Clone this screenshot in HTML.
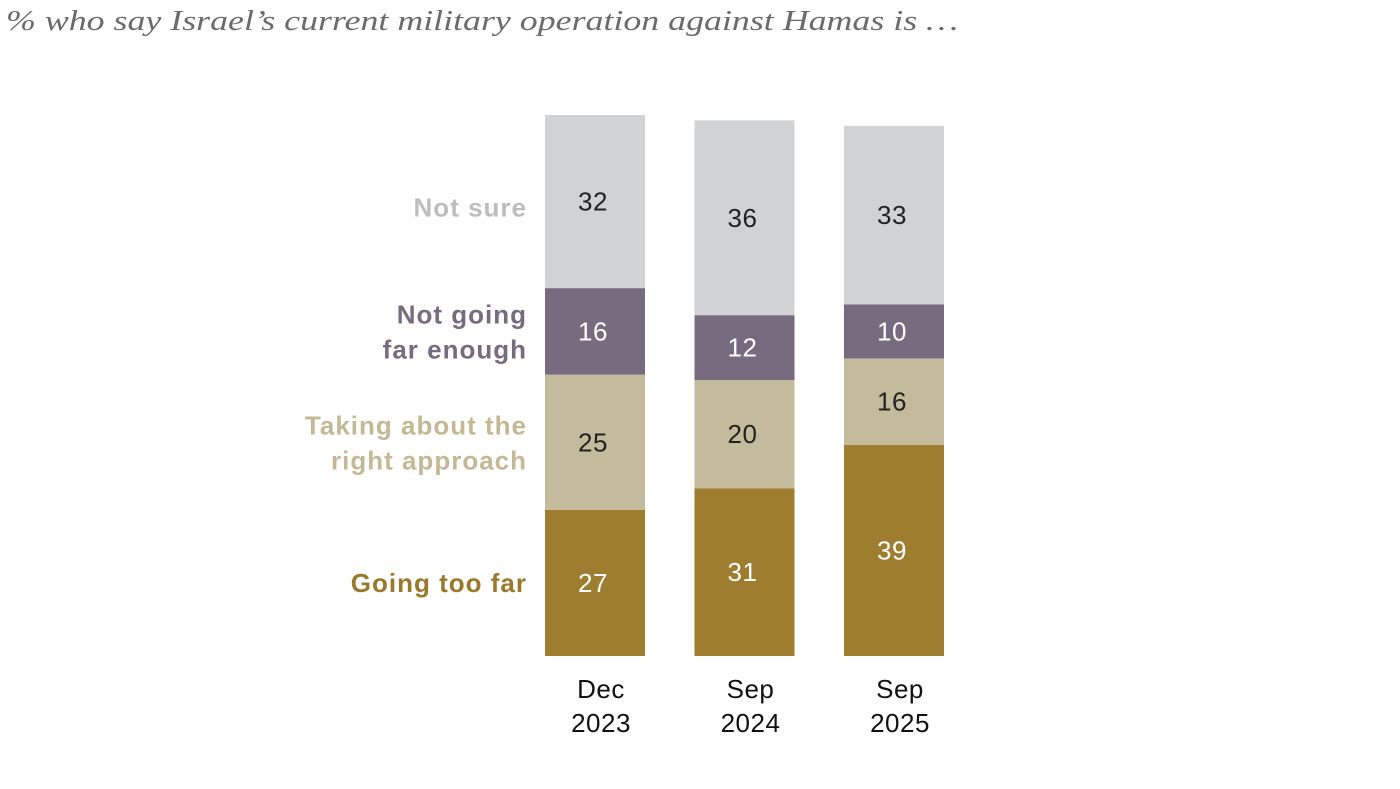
<!DOCTYPE html>
<html><head><meta charset="utf-8"><style>
html,body{margin:0;padding:0;background:#fff;}
body{width:1400px;height:789px;overflow:hidden;position:relative;font-family:"Liberation Sans",sans-serif;}
</style></head><body>
<svg id="chart" width="1400" height="789" style="position:absolute;left:0;top:0">
<text x="6" y="30" font-family="Liberation Serif, serif" font-style="italic" font-size="28" fill="#6b6b6b" textLength="952" lengthAdjust="spacingAndGlyphs">% who say Israel’s current military operation against Hamas is …</text>
</svg>
<script>
const categories = ["Dec\n2023","Sep\n2024","Sep\n2025"];
const seriesNames = ["Going too far","Taking about the\nright approach","Not going\nfar enough","Not sure"];
const goingTooFar = [27,31,39];
const rightApproach = [25,20,16];
const notFarEnough = [16,12,10];
const notSure = [32,36,33];

const series=[goingTooFar,rightApproach,notFarEnough,notSure];
const fills=["#9e7e2e","#c4bb9c","#776b7f","#d1d2d4"];
const textCols=["#fff","#222","#fff","#222"];
const labelCols=["#9a7a2a","#c4b994","#776b7f","#bdbdbd"];
const keys=["going-too-far","right-approach","not-far-enough","not-sure"];
const svg=document.getElementById('chart');
const NS="http://www.w3.org/2000/svg";
const baseY=656, unit=5.41, barW=100;
const xPos=i=>545+i*149.5;
const yScale=v=>baseY-v*unit;
function mk(t,a){const e=document.createElementNS(NS,t);for(const k in a)e.setAttribute(k,a[k]);svg.appendChild(e);return e;}
categories.forEach((c,i)=>{
  let cum=0;
  series.forEach((s,j)=>{
    const y0=yScale(cum), y1=yScale(cum+s[i]);
    const r=mk('rect',{x:xPos(i),y:y1,width:barW,height:y0-y1,fill:fills[j]});
    
    
    const t=mk('text',{x:xPos(i)+barW/2-2,y:(y0+y1)/2+9,'text-anchor':'middle','font-size':'26',fill:textCols[j],'font-family':'Liberation Sans, sans-serif','letter-spacing':'0.5'});
    t.textContent=s[i];
    
    
    cum+=s[i];
  });
  const lines=c.split("\n");
  lines.forEach((l,k)=>{
    const t=mk('text',{x:xPos(i)+barW/2+6,y:698+k*34,'text-anchor':'middle','font-size':'26',fill:'#111','font-family':'Liberation Sans, sans-serif','letter-spacing':'0.5'});
    t.textContent=l;
    
    
  });
});
let cum=0;
series.forEach((s,j)=>{
  const mid=(yScale(cum)+yScale(cum+s[0]))/2;
  const lines=seriesNames[j].split("\n");
  const startY=mid+9-(lines.length-1)*17+(j===3?6:0);
  lines.forEach((l,k)=>{
    const t=mk('text',{x:527,y:startY+k*35,'text-anchor':'end','font-size':'26','font-weight':'bold',fill:labelCols[j],'font-family':'Liberation Sans, sans-serif','letter-spacing':'1'});
    t.textContent=l;
    
    
  });
  cum+=s[0];
});
</script>
</body></html>
